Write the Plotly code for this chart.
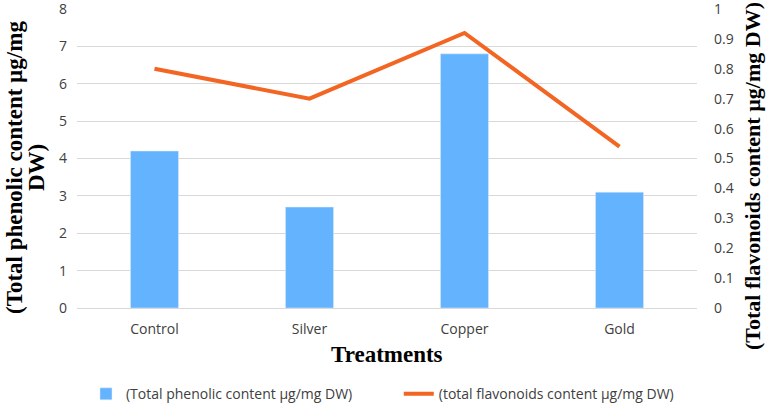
import plotly.graph_objects as go

categories = ["Control", "Silver", "Copper", "Gold"]
phenolic = [4.2, 2.7, 6.8, 3.1]
flavonoids = [0.80, 0.70, 0.92, 0.54]
left_ticks = [0, 1, 2, 3, 4, 5, 6, 7, 8]
right_ticks = [0, 0.1, 0.2, 0.3, 0.4, 0.5, 0.6, 0.7, 0.8, 0.9, 1]

tick_font = dict(family="Open Sans, Calibri, sans-serif", size=14, color="#404040")
title_font = dict(family="Liberation Serif, Times New Roman, serif", size=23, color="#000000")
legend_font = dict(family="Open Sans, Calibri, sans-serif", size=14, color="#404040")

fig = go.Figure()
fig.add_trace(go.Bar(
    x=categories, y=phenolic, name="(Total phenolic content µg/mg DW)",
    marker_color="#63B3FF", width=0.31, yaxis="y", legend="legend"))
fig.add_trace(go.Scatter(
    x=categories, y=flavonoids, name="(total flavonoids content µg/mg DW)",
    mode="lines", line=dict(color="#F26522", width=4), yaxis="y2", legend="legend2"))

fig.update_layout(
    width=767, height=404,
    margin=dict(l=77, r=70, t=9, b=96, autoexpand=False),
    paper_bgcolor="white", plot_bgcolor="white",
    showlegend=True,
    legend=dict(orientation="h", x=0.0145, xanchor="left", y=-0.235, yanchor="top",
                font=legend_font),
    legend2=dict(orientation="h", x=0.519, xanchor="left", y=-0.235, yanchor="top",
                 font=legend_font),
    xaxis=dict(tickfont=tick_font, showgrid=False, showline=True, linecolor="#D9D9D9",
               ticks="", ticklabelstandoff=8, automargin=False),
    yaxis=dict(range=[0, 8], tickvals=left_ticks, tickfont=tick_font, automargin=False,
               ticklabeloverflow="allow",
               gridcolor="#D9D9D9", zeroline=False, ticks="", ticklabelstandoff=9),
    yaxis2=dict(range=[0, 1], tickvals=right_ticks, tickfont=tick_font, overlaying="y", side="right",
                showgrid=False, zeroline=False, ticks="", ticklabelstandoff=16, automargin=False,
                ticklabeloverflow="allow"),
    annotations=[
        dict(text="<b>Treatments</b>", font=title_font, showarrow=False,
             xref="paper", yref="paper", x=0.5, y=-0.157, xanchor="center", yanchor="middle"),
        dict(text="<b>(Total phenolic content µg/mg</b>", font=title_font, showarrow=False,
             textangle=-90, xref="paper", yref="paper",
             x=(14 - 77) / 620, y=(308 - 168) / 299, xanchor="center", yanchor="middle"),
        dict(text="<b>DW)</b>", font=title_font, showarrow=False,
             textangle=-90, xref="paper", yref="paper",
             x=(36 - 77) / 620, y=(308 - 168) / 299, xanchor="center", yanchor="middle"),
        dict(text="<b>(Total flavonoids content µg/mg DW)</b>", font=dict(title_font, size=22),
             showarrow=False, textangle=-90, xref="paper", yref="paper",
             x=(752 - 77) / 620, y=(308 - 176) / 299, xanchor="center", yanchor="middle"),
    ],
)

fig.write_html("out.html", post_script="document.body.style.margin='0';",
               config={"displayModeBar": False})
